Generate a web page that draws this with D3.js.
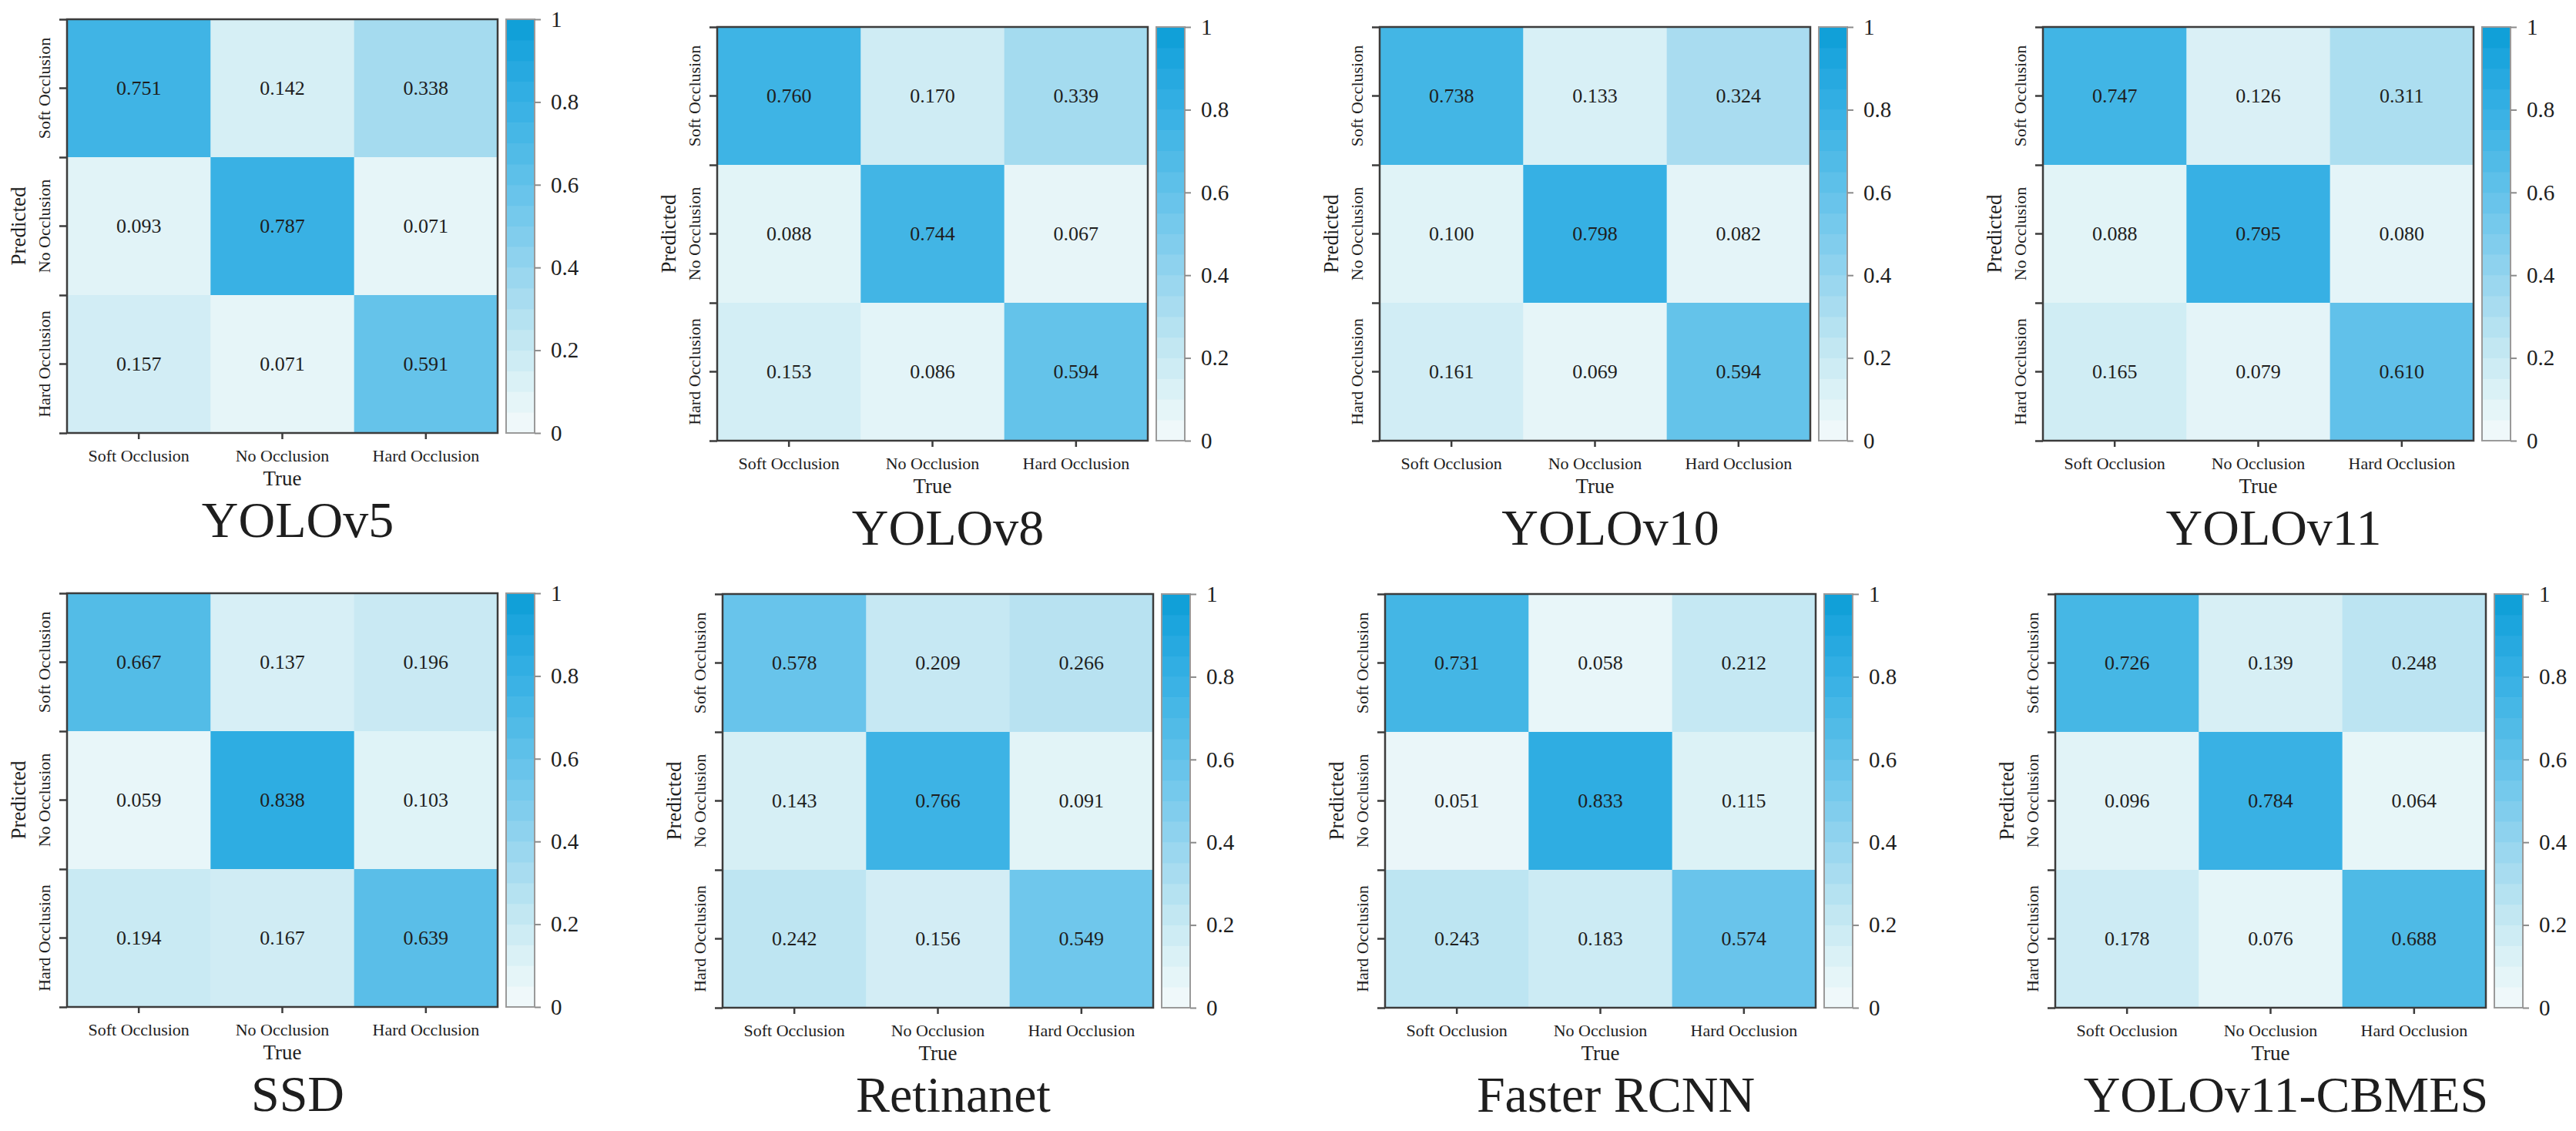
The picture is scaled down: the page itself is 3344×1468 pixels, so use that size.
<!DOCTYPE html>
<html>
<head>
<meta charset="utf-8">
<script src="https://cdn.jsdelivr.net/npm/d3@7"></script>
<style>
  body { margin: 0; background: #fff; }
  svg, svg text { font-family: "Liberation Serif", "Times New Roman", "DejaVu Serif", serif !important; }
  text { fill: #1e1e1e; }
</style>
</head>
<body>
<script>
// class labels (rows = predicted, columns = true)
const classes = ["Soft Occlusion", "No Occlusion", "Hard Occlusion"];
const models = ["YOLOv5", "YOLOv8", "YOLOv10", "YOLOv11", "SSD", "Retinanet", "Faster RCNN", "YOLOv11-CBMES"];

const yolov5  = [[0.751, 0.142, 0.338], [0.093, 0.787, 0.071], [0.157, 0.071, 0.591]];
const yolov8  = [[0.760, 0.170, 0.339], [0.088, 0.744, 0.067], [0.153, 0.086, 0.594]];
const yolov10 = [[0.738, 0.133, 0.324], [0.100, 0.798, 0.082], [0.161, 0.069, 0.594]];
const yolov11 = [[0.747, 0.126, 0.311], [0.088, 0.795, 0.080], [0.165, 0.079, 0.610]];
const ssd       = [[0.667, 0.137, 0.196], [0.059, 0.838, 0.103], [0.194, 0.167, 0.639]];
const retinanet = [[0.578, 0.209, 0.266], [0.143, 0.766, 0.091], [0.242, 0.156, 0.549]];
const fasterRcnn = [[0.731, 0.058, 0.212], [0.051, 0.833, 0.115], [0.243, 0.183, 0.574]];
const cbmes     = [[0.726, 0.139, 0.248], [0.096, 0.784, 0.064], [0.178, 0.076, 0.688]];

const matrices = [yolov5, yolov8, yolov10, yolov11, ssd, retinanet, fasterRcnn, cbmes];
const colorbarTicks = [0, 0.2, 0.4, 0.6, 0.8, 1];

// colour ramp stops, light to deep blue
const rampStops = ["#f4fafb", "#e0f3f7", "#c8e9f3", "#afdff0", "#94d4ee", "#7bcbed",
                   "#63c2ea", "#4bb9e6", "#36b0e4", "#22a7df", "#0b9dd6"];

// where each heatmap sits on the page
const origins = [[87, 25], [931, 35], [1791, 35], [2652, 35],
                 [87, 770], [938, 771], [1798, 771], [2668, 771]];

const W = 559, H = 537;
const serif = '"Liberation Serif", "Times New Roman", serif';

const ramp = d3.scaleLinear()
  .domain(d3.range(rampStops.length).map(i => i / (rampStops.length - 1)))
  .range(rampStops)
  .interpolate(d3.interpolateRgb);

const svg = d3.select("body").append("svg")
  .attr("width", 3344)
  .attr("height", 1468)
  .attr("font-family", serif);

const x = d3.scaleBand().domain(classes).range([0, W]);
const y = d3.scaleBand().domain(classes).range([0, H]);
const yEdges = d3.scaleLinear().domain([0, 3]).range([0, H]);
const cScale = d3.scaleLinear().domain([0, 1]).range([H, 0]);
const bands = d3.range(20).map(i => i / 20);

models.forEach((name, k) => {
  const m = matrices[k];
  const g = svg.append("g")
    .attr("transform", `translate(${origins[k][0]},${origins[k][1]})`);

  const cells = [];
  m.forEach((row, i) => row.forEach((v, j) => cells.push({ p: classes[i], t: classes[j], v: v })));

  g.selectAll("rect.cell")
    .data(cells)
    .enter()
    .append("rect")
    .attr("class", "cell")
    .attr("x", d => x(d.t))
    .attr("y", d => y(d.p))
    .attr("width", x.bandwidth() + 0.5)
    .attr("height", y.bandwidth() + 0.5)
    .attr("fill", d => ramp(d.v));

  g.selectAll("text.val")
    .data(cells)
    .enter()
    .append("text")
    .attr("class", "val")
    .attr("x", d => x(d.t) + x.bandwidth() / 2)
    .attr("y", d => y(d.p) + y.bandwidth() / 2)
    .attr("text-anchor", "middle")
    .attr("dominant-baseline", "central")
    .style("font-size", "26px")
    .text(d => d.v.toFixed(3));

  // frame
  g.append("rect")
    .attr("width", W).attr("height", H)
    .attr("fill", "none")
    .attr("stroke", "#3c3c3c")
    .attr("stroke-width", 2.5);

  // x axis
  const xa = g.append("g")
    .attr("transform", `translate(0,${H})`)
    .call(d3.axisBottom(x).tickSize(8).tickPadding(13));
  xa.attr("font-family", serif);
  xa.select(".domain").remove();
  xa.selectAll("line").attr("stroke", "#3c3c3c").attr("stroke-width", 2.5);
  xa.selectAll("text").style("font-size", "22px").attr("fill", "#2a2a2a");

  // y axis, labels rotated
  const ya = g.append("g").call(d3.axisLeft(y).tickSize(10));
  ya.attr("font-family", serif);
  ya.select(".domain").remove();
  ya.selectAll("line").attr("stroke", "#3c3c3c").attr("stroke-width", 2.5);
  ya.selectAll("text")
    .attr("transform", "rotate(-90)")
    .attr("x", 0).attr("y", -22).attr("dy", 0)
    .style("text-anchor", "middle")
    .style("font-size", "22px")
    .attr("fill", "#2a2a2a");

  // boundary ticks on the left edge
  const ye = g.append("g").call(d3.axisLeft(yEdges).tickValues([0, 1, 2, 3]).tickSize(10).tickFormat(""));
  ye.select(".domain").remove();
  ye.selectAll("line").attr("stroke", "#3c3c3c").attr("stroke-width", 2.5);

  g.append("text")
    .attr("transform", `translate(-54,${H / 2}) rotate(-90)`)
    .attr("text-anchor", "middle")
    .style("font-size", "27px")
    .text("Predicted");

  g.append("text")
    .attr("x", W / 2).attr("y", H + 68)
    .attr("text-anchor", "middle")
    .style("font-size", "27px")
    .text("True");

  g.append("text")
    .attr("x", W / 2 + 20).attr("y", H + 135)
    .attr("text-anchor", "middle")
    .style("font-size", "66px")
    .attr("fill", "#111")
    .text(name);

  // colorbar
  const cb = g.append("g").attr("transform", `translate(${W + 11},0)`);
  cb.selectAll("rect.band")
    .data(bands)
    .enter()
    .append("rect")
    .attr("class", "band")
    .attr("x", 0)
    .attr("y", d => cScale(d + 0.05))
    .attr("width", 37)
    .attr("height", cScale(0) - cScale(0.05) + 0.5)
    .attr("fill", d => ramp(d + 0.025));
  cb.append("rect")
    .attr("width", 37).attr("height", H)
    .attr("fill", "none")
    .attr("stroke", "#9a9a9a")
    .attr("stroke-width", 2);
  const ca = cb.append("g")
    .attr("transform", "translate(37,0)")
    .call(d3.axisRight(cScale).tickValues(colorbarTicks).tickSize(8).tickPadding(13).tickFormat(d3.format("~g")));
  ca.attr("font-family", serif);
  ca.select(".domain").remove();
  ca.selectAll("line").attr("stroke", "#8a8a8a").attr("stroke-width", 2);
  ca.selectAll("text").style("font-size", "29px").attr("fill", "#2a2a2a");
});
</script>
</body>
</html>
